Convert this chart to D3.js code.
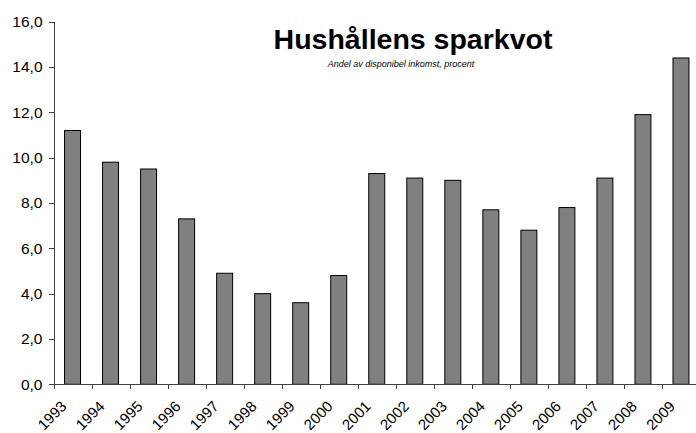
<!DOCTYPE html>
<html>
<head>
<meta charset="utf-8">
<script src="https://cdn.jsdelivr.net/npm/d3@7"></script>
<style>
  body {margin: 0; background: #fff;}
  svg {display: block; font-family: "Liberation Sans", Arial, sans-serif;}
  .bar {fill: #808080; stroke: #000; stroke-width: 1;}
  .axis path, .axis line {stroke: #404040; shape-rendering: crispEdges;}
</style>
</head>
<body>
<script>
const years = ['1993', '1994', '1995', '1996', '1997', '1998', '1999', '2000', '2001',
  '2002', '2003', '2004', '2005', '2006', '2007', '2008', '2009']
const sparkvot = [11.2, 9.8, 9.5, 7.3, 4.9, 4.0, 3.6, 4.8, 9.3,
  9.1, 9.0, 7.7, 6.8, 7.8, 9.1, 11.9, 14.4]
const yTicks = [0, 2, 4, 6, 8, 10, 12, 14, 16]

const svgWidth = 696
const svgHeight = 433

const svg = d3.select('body').append('svg')
  .attr('width', svgWidth).attr('height', svgHeight)

const plotLeft = 53.5
const plotRight = 700
const plotTop = 21.7
const plotBottom = 384.3

// skalor
const x = d3.scaleBand().domain(years).range([plotLeft, plotRight])
  .paddingInner(0.58).paddingOuter(0.29)
const y = d3.scaleLinear().domain([0, 16]).range([plotBottom, plotTop])
const xEdge = d3.scaleLinear().domain([0, years.length]).range([plotLeft, plotRight])

const fmt = v => d3.format('.1f')(v).replace('.', ',')

// y-axel
svg.append('g').attr('class', 'axis')
  .attr('transform', `translate(${plotLeft},0)`)
  .call(d3.axisLeft(y).tickValues(yTicks).tickFormat(fmt).tickSize(5).tickSizeOuter(0).tickPadding(6))
  .call(g => g.selectAll('text').attr('font-size', 15.5).attr('fill', '#000')
    .attr('font-family', '"Liberation Sans", Arial, sans-serif'))

// staplar
svg.append('g').selectAll('.bar').data(sparkvot).enter().append('rect')
  .attr('class', 'bar')
  .attr('x', (d, i) => x(years[i]))
  .attr('width', x.bandwidth())
  .attr('y', d => y(d))
  .attr('height', d => y(0) - y(d))

// x-axel, streck mellan kategorierna
svg.append('g').attr('class', 'axis')
  .attr('transform', `translate(0,${plotBottom})`)
  .call(d3.axisBottom(xEdge).tickValues(d3.range(years.length + 1)).tickFormat('').tickSize(5).tickSizeOuter(0))

svg.append('g').selectAll('text').data(years).enter().append('text')
  .attr('transform', d => `translate(${x(d) + x.bandwidth() / 2 - 5},${plotBottom + 23}) rotate(-45)`)
  .attr('text-anchor', 'end')
  .attr('font-size', 15)
  .text(d => d)

// rubrik
svg.append('text')
  .attr('x', 413).attr('y', 49)
  .attr('text-anchor', 'middle')
  .attr('font-size', 28.5).attr('font-weight', 'bold')
  .text('Hushållens sparkvot')

svg.append('text')
  .attr('x', 401).attr('y', 66.5)
  .attr('text-anchor', 'middle')
  .attr('font-size', 9).attr('font-style', 'italic')
  .text('Andel av disponibel inkomst, procent')
</script>
</body>
</html>
